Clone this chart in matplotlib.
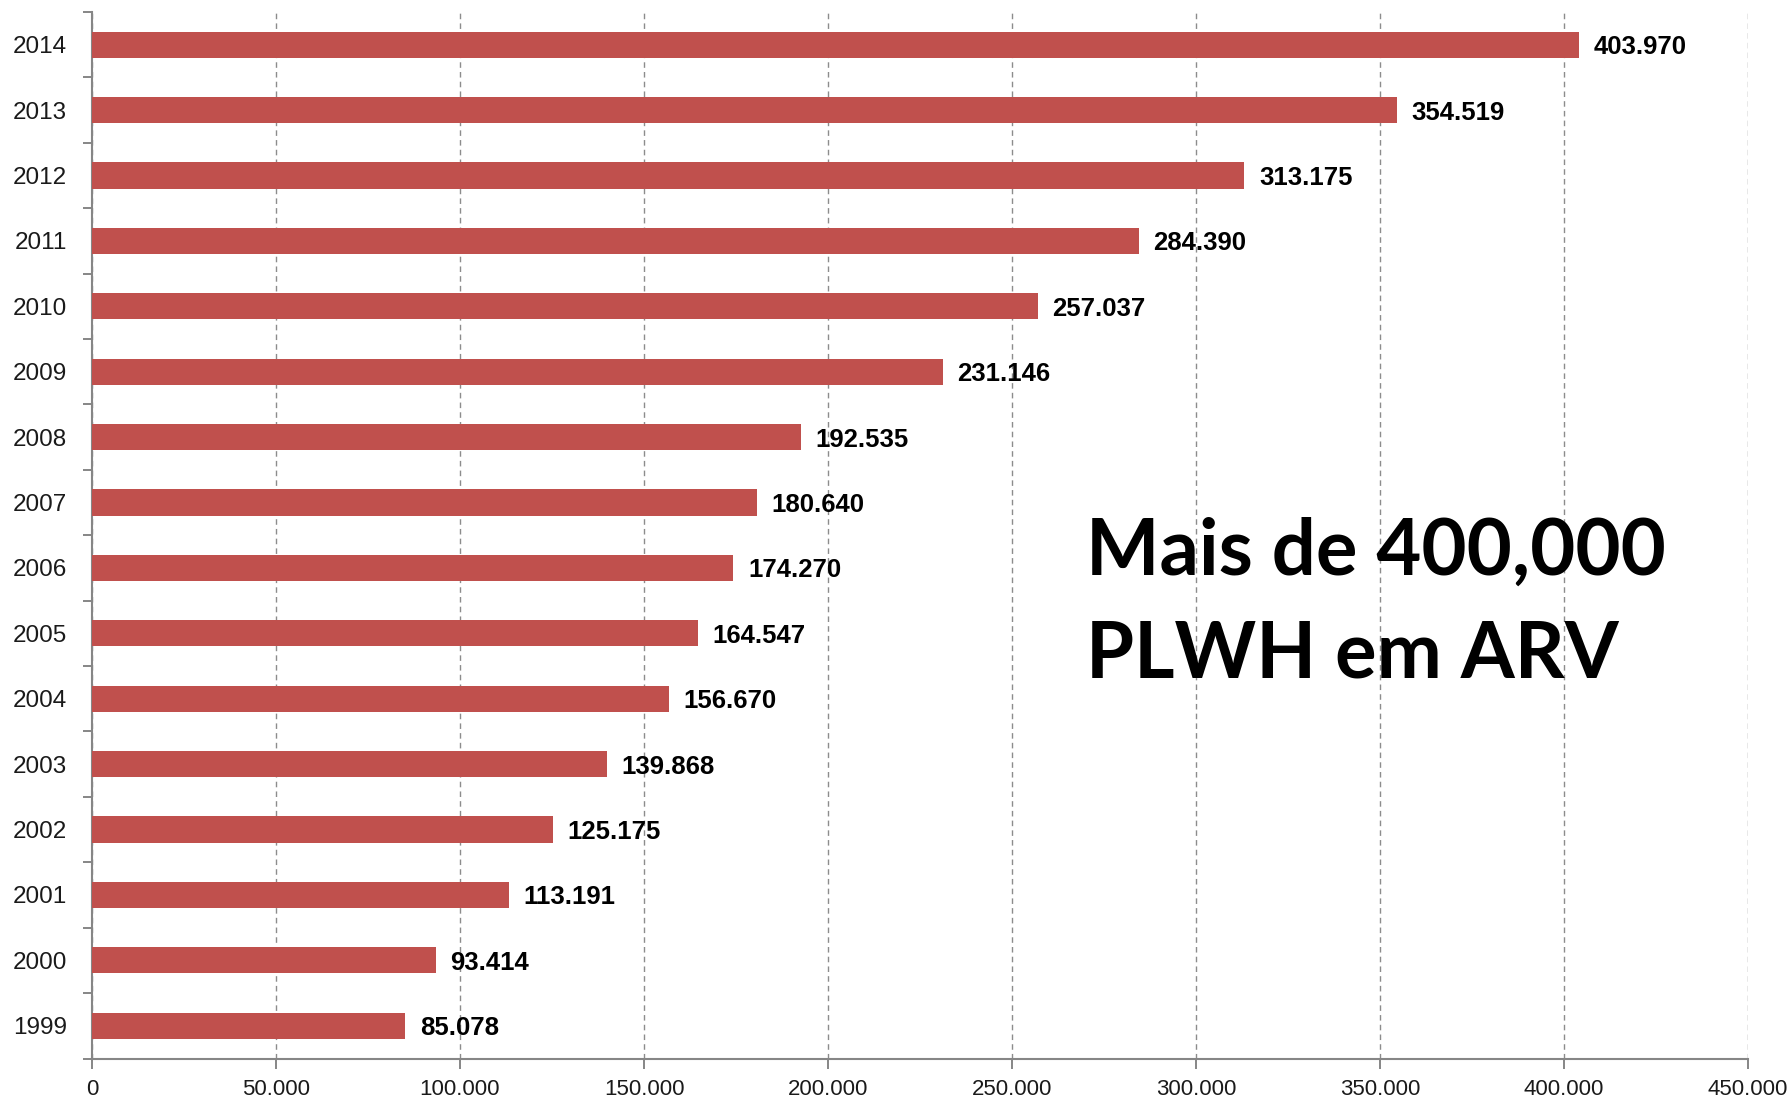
import matplotlib
matplotlib.use("Agg")
import matplotlib.pyplot as plt
from matplotlib.ticker import FixedLocator, FuncFormatter
import numpy as np

# people on ARV per year
years = ["1999", "2000", "2001", "2002", "2003", "2004", "2005", "2006",
         "2007", "2008", "2009", "2010", "2011", "2012", "2013", "2014"]
patients = [85078, 93414, 113191, 125175, 139868, 156670, 164547, 174270,
            180640, 192535, 231146, 257037, 284390, 313175, 354519, 403970]
x_ticks = [0, 50000, 100000, 150000, 200000, 250000, 300000, 350000, 400000, 450000]
headline = ["Mais de 400,000", "PLWH em ARV"]

bar_color = "#C0504D"
axis_color = "#868686"
text_color = "#1a1a1a"


def br_thousands(v):
    # 12345 -> "12.345"
    return "{:,}".format(int(v)).replace(",", ".")


plt.rcParams["font.family"] = ["Liberation Sans", "DejaVu Sans"]

fig = plt.figure(figsize=(17.91, 11.02), dpi=100)
ax = fig.add_axes([92 / 1791, 1 - 1058.5 / 1102, (1748 - 92) / 1791, (1058.5 - 12) / 1102])

pos = np.arange(len(years))
ax.barh(pos, patients, height=0.4, color=bar_color, zorder=3)

for i, v in enumerate(patients):
    ax.annotate(br_thousands(v), xy=(v, i), xytext=(10.5, 0), textcoords="offset points",
                ha="left", va="center_baseline", fontsize=18.5, fontweight="bold",
                color="black", zorder=4)

ax.set_xlim(0, 450000)
ax.set_ylim(-0.5, len(years) - 0.5)

ax.xaxis.set_major_locator(FixedLocator(x_ticks))
ax.xaxis.set_major_formatter(FuncFormatter(lambda v, p: br_thousands(v)))
ax.tick_params(axis="x", direction="out", length=7, width=1.4, color=axis_color,
               labelsize=16, labelcolor=text_color, pad=8)

ax.set_yticks(pos)
ax.set_yticklabels(years)
ax.set_yticks(np.arange(len(years) + 1) - 0.5, minor=True)
ax.tick_params(axis="y", which="major", length=0, labelsize=17.5, labelcolor=text_color, pad=18)
ax.tick_params(axis="y", which="minor", direction="out", length=6.5, width=1.4, color=axis_color)

ax.grid(axis="x", color="#8c8c8c", linestyle=(0, (4, 3)), linewidth=1.0, zorder=0)
ax.grid(axis="y", visible=False)

for side in ["top", "right"]:
    ax.spines[side].set_visible(False)
for side in ["left", "bottom"]:
    ax.spines[side].set_color(axis_color)
    ax.spines[side].set_linewidth(1.5)

fig.text(1086 / 1791, 1 - 575 / 1102, headline[0], fontsize=56, fontweight="bold",
         family="Lato", va="baseline", ha="left", color="black")
fig.text(1086 / 1791, 1 - 677 / 1102, headline[1], fontsize=56, fontweight="bold",
         family="Lato", va="baseline", ha="left", color="black")

fig.savefig("out.png", dpi=100, facecolor="white")
